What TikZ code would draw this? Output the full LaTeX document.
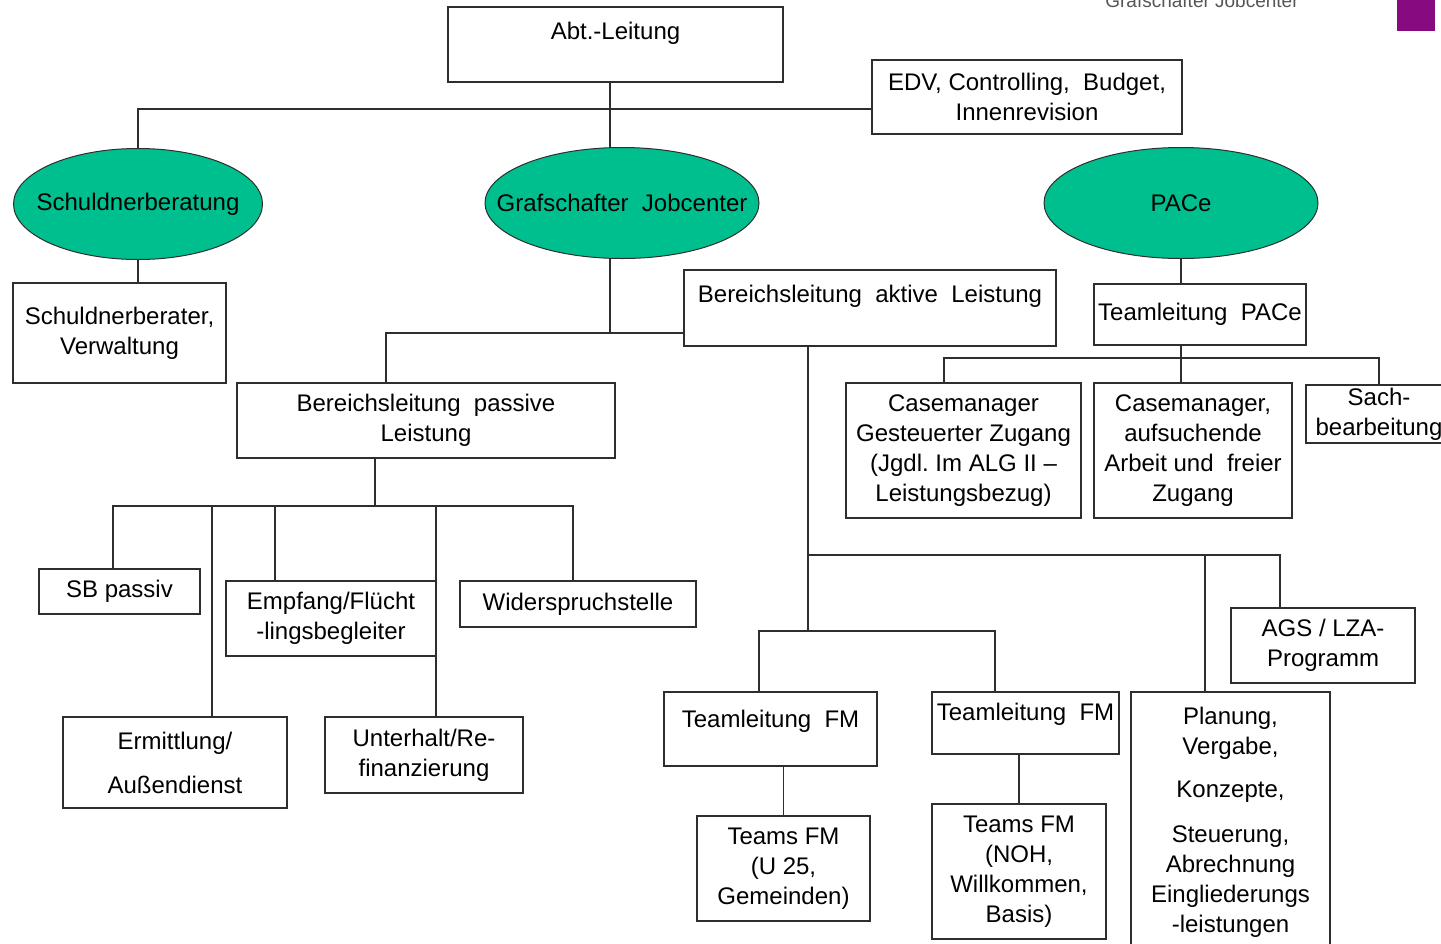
\documentclass[tikz,border=0pt]{standalone}
\usepackage{fontspec}
\setmainfont{Liberation Sans}
\usepackage{xcolor}
\usetikzlibrary{shapes.geometric}
\definecolor{jcgreen}{HTML}{00BF8F}
\definecolor{jcpurple}{HTML}{870A80}
\definecolor{linegray}{HTML}{2E2E2E}
\definecolor{brandgray}{HTML}{555555}
\newcommand{\orgfont}{\fontsize{24}{30}\selectfont}
\newcommand{\ecap}[1]{\makebox[0pt]{#1}}

\begin{document}
\begin{tikzpicture}[x=1pt, y=-1pt,
    box/.style={draw=linegray, line width=1.2pt, rectangle, inner sep=0pt, align=center, font=\orgfont},
    unit/.style={draw=linegray, line width=1pt, ellipse, fill=jcgreen, inner sep=0pt, font=\orgfont},
    conn/.style={draw=linegray, line width=1.2pt}]
    \useasboundingbox (0,0) rectangle (1441,943);

    % Header
    \fill[jcpurple] (1397,0) rectangle (1435,31);
    \node[anchor=base, text=brandgray, font=\fontsize{19}{22}\selectfont] (brand) at (1202,7) {Grafschafter Jobcenter};

    % Top
    \node[box, minimum width=335pt, minimum height=75pt, text depth=27pt] (abt) at (615.5,44.5) {Abt.-Leitung};
    \node[box, minimum width=310pt, minimum height=74pt] (edv) at (1027,97) {EDV,\ Controlling,\ \ Budget,\\Innenrevision};

    % Units
    \node[unit, minimum width=249pt, minimum height=111pt] (schb) at (138,204) {\ecap{Schuldnerberatung}};
    \node[unit, minimum width=274pt, minimum height=111pt] (gjc) at (622,203) {\ecap{Grafschafter\ \ Jobcenter}};
    \node[unit, minimum width=274pt, minimum height=111pt] (pace) at (1181,203) {\ecap{PACe}};

    % Schuldnerberatung
    \node[box, minimum width=213pt, minimum height=100pt] (schber) at (119.5,333) {Schuldnerberater,\\Verwaltung};

    % PACe
    \node[box, minimum width=212pt, minimum height=61pt] (tlp) at (1200,314.5) {Teamleitung\ \ PACe};
    \node[box, minimum width=235pt, minimum height=135pt] (cmg) at (963.5,450.5) {Casemanager\\Gesteuerter Zugang\\(Jgdl.\ Im ALG II --\\Leistungsbezug)};
    \node[box, minimum width=198pt, minimum height=135pt] (cma) at (1193,450.5) {Casemanager,\\aufsuchende\\Arbeit und\ \ freier\\Zugang};
    \node[box, minimum width=146pt, minimum height=58pt] (sach) at (1379,414) {Sach-\\bearbeitung};

    % Passive Leistung
    \node[box, minimum width=378pt, minimum height=75pt] (blp) at (426,420.5) {Bereichsleitung\ \ passive\\Leistung};
    \node[box, minimum width=161pt, minimum height=45pt] (sbp) at (119.5,591.5) {SB passiv};
    \node[box, minimum width=210pt, minimum height=75pt] (empf) at (331,618.5) {Empfang/Flücht\\-lingsbegleiter};
    \node[box, minimum width=236pt, minimum height=46pt] (wid) at (578,604) {Widerspruchstelle};
    \node[box, minimum width=224pt, minimum height=91pt] (erm) at (175,762.5) {Ermittlung/\\[14pt]Außendienst};
    \node[box, minimum width=198pt, minimum height=76pt] (unt) at (424,755) {Unterhalt/Re-\\finanzierung};

    % Aktive Leistung
    \node[box, minimum width=372pt, minimum height=76pt, text depth=28pt] (bla) at (870,308) {Bereichsleitung\ \ aktive\ \ Leistung};
    \node[box, minimum width=213pt, minimum height=74pt, text depth=20pt] (tfm1) at (770.5,729) {Teamleitung\ \ FM};
    \node[box, minimum width=187pt, minimum height=62pt, text depth=22pt] (tfm2) at (1025.5,723) {Teamleitung\ \ FM};
    \node[box, minimum width=173pt, minimum height=105pt] (tms1) at (783.5,868.5) {Teams FM\\(U 25,\\Gemeinden)};
    \node[box, minimum width=174pt, minimum height=135pt] (tms2) at (1019,871.5) {Teams FM\\(NOH,\\Willkommen,\\Basis)};
    \node[box, minimum width=184pt, minimum height=75pt] (ags) at (1323,645.5) {AGS / LZA-\\Programm};
    \node[box, minimum width=199pt, minimum height=260pt] (plan) at (1230.5,822) {Planung,\\Vergabe,\\[13pt]Konzepte,\\[15pt]Steuerung,\\Abrechnung\\Eingliederungs\\-leistungen};

    % Junctions
    \coordinate (top) at (610,109);
    \coordinate (jc) at (610,333);
    \coordinate (pl) at (386,333);
    \coordinate (pbus) at (1181,358);
    \coordinate (pbusl) at (944,358);
    \coordinate (pb) at (375,506);
    \coordinate (pbL) at (113,506);
    \coordinate (pbR) at (573,506);
    \coordinate (ab) at (808,631);
    \coordinate (ab1) at (808,555);
    \coordinate (planx) at (1205,555);
    \coordinate (agsx) at (1280,555);
    \coordinate (fmL) at (759,631);
    \coordinate (fmR) at (995,631);

    % Connectors
    \draw[conn] (abt.south -| top) -- (top |- gjc.north);
    \draw[conn] (schb.north) |- (top) -- (edv.west |- top);
    \draw[conn] (schb.south) -- (schb.south |- schber.north);
    \draw[conn] (top |- gjc.south) -- (jc) -- (bla.west |- jc);
    \draw[conn] (jc) -- (pl) -- (pl |- blp.north);

    \draw[conn] (pace.south) -- (pace.south |- tlp.north);
    \draw[conn] (pace.south |- tlp.south) -- (pbus) -- (pbus |- cma.north);
    \draw[conn] (pbusl |- cmg.north) -- (pbusl) -| (sach.north);

    \draw[conn] (blp.south -| pb) -- (pb);
    \draw[conn] (pbL |- sbp.north) -- (pbL) -- (pbR) -- (pbR |- wid.north);
    \foreach \x/\n in {212/erm, 275/empf, 436/unt}
        \draw[conn] (\x,506) -- (\x,506 |- \n.north);

    \draw[conn] (bla.south -| ab) -- (ab);
    \draw[conn] (ab1) -- (agsx) -- (agsx |- ags.north);
    \draw[conn] (planx) -- (planx |- plan.north);
    \draw[conn] (fmL |- tfm1.north) -- (fmL) -- (fmR) -- (fmR |- tfm2.north);
    \draw[conn] (tms1.north |- tfm1.south) -- (tms1.north);
    \draw[conn] (tms2.north |- tfm2.south) -- (tms2.north);
\end{tikzpicture}
\end{document}
